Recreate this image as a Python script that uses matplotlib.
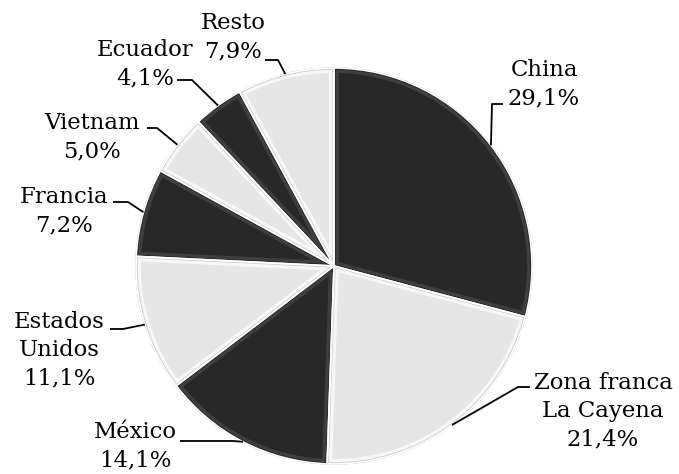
import matplotlib
matplotlib.use("Agg")
import matplotlib.pyplot as plt
from matplotlib.patches import Wedge
import numpy as np

W, H = 679, 474

countries = ["China", "Zona franca\nLa Cayena", "México", "Estados\nUnidos",
             "Francia", "Vietnam", "Ecuador", "Resto"]
shares = [29.1, 21.4, 14.1, 11.1, 7.2, 5.0, 4.1, 7.9]

DARK = "#282828"
LIGHT = "#e6e6e6"
colors = [DARK, LIGHT] * 4

# label layout in pixels from top-left: text centre, leader y, leader start x, knee x
label_pos = [(544, 84), (603, 411), (135, 446), (59, 350),
             (64, 211), (92, 137), (145, 64), (233, 37)]
leaders = [(104, 503, 492), (387, 530, 518), (441, 180, 233), (329, 110, 123),
           (202, 113, 128), (128, 147, 157), (80, 177, 192), (60, 265, 278)]


def px(x, y):
    return x, H - y


fig = plt.figure(figsize=(W / 100, H / 100), dpi=100)
ax = fig.add_axes([0, 0, 1, 1])

wedges, _ = ax.pie(shares, colors=colors, startangle=90, counterclock=False,
                   center=px(334, 266), radius=198,
                   wedgeprops=dict(edgecolor="#8a8a8a", linewidth=1.0))
ax.set_xlim(0, W)
ax.set_ylim(0, H)
ax.set_aspect("auto")
ax.axis("off")

# bevel-like inner bands
for w, c in zip(wedges, colors):
    band = Wedge(w.center, w.r, w.theta1, w.theta2, facecolor="none",
                 edgecolor="#4a4a4a" if c == DARK else "#ffffff",
                 linewidth=7, alpha=0.7, zorder=w.get_zorder() + 0.1)
    ax.add_patch(band)
    band.set_clip_path(w)
    inner = Wedge(w.center, w.r, w.theta1, w.theta2, facecolor="none",
                  edgecolor="#202020" if c == DARK else "#c4c4c4",
                  linewidth=2.5, alpha=0.8, zorder=w.get_zorder() + 0.2)
    ax.add_patch(inner)
    inner.set_clip_path(w)
    sep = Wedge(w.center, w.r, w.theta1, w.theta2, facecolor="none",
                edgecolor="white", linewidth=1.2, zorder=w.get_zorder() + 0.3)
    ax.add_patch(sep)

for w, name, val, (tx, ty), (ly, x0, xk) in zip(wedges, countries, shares,
                                                  label_pos, leaders):
    mid = np.deg2rad((w.theta1 + w.theta2) / 2)
    ax_pt = (w.center[0] + w.r * np.cos(mid), w.center[1] + w.r * np.sin(mid))
    ax.plot([x0, xk, ax_pt[0]], [H - ly, H - ly, ax_pt[1]],
            color="black", linewidth=1.3, zorder=5, solid_capstyle="butt")
    txt = f"{name}\n{val:.1f}%".replace(".", ",")
    ax.text(*px(tx, ty), txt, ha="center", va="center", multialignment="center",
            fontsize=16.4, family="DejaVu Serif", linespacing=1.35, zorder=6)

fig.savefig("out.png", dpi=100)
